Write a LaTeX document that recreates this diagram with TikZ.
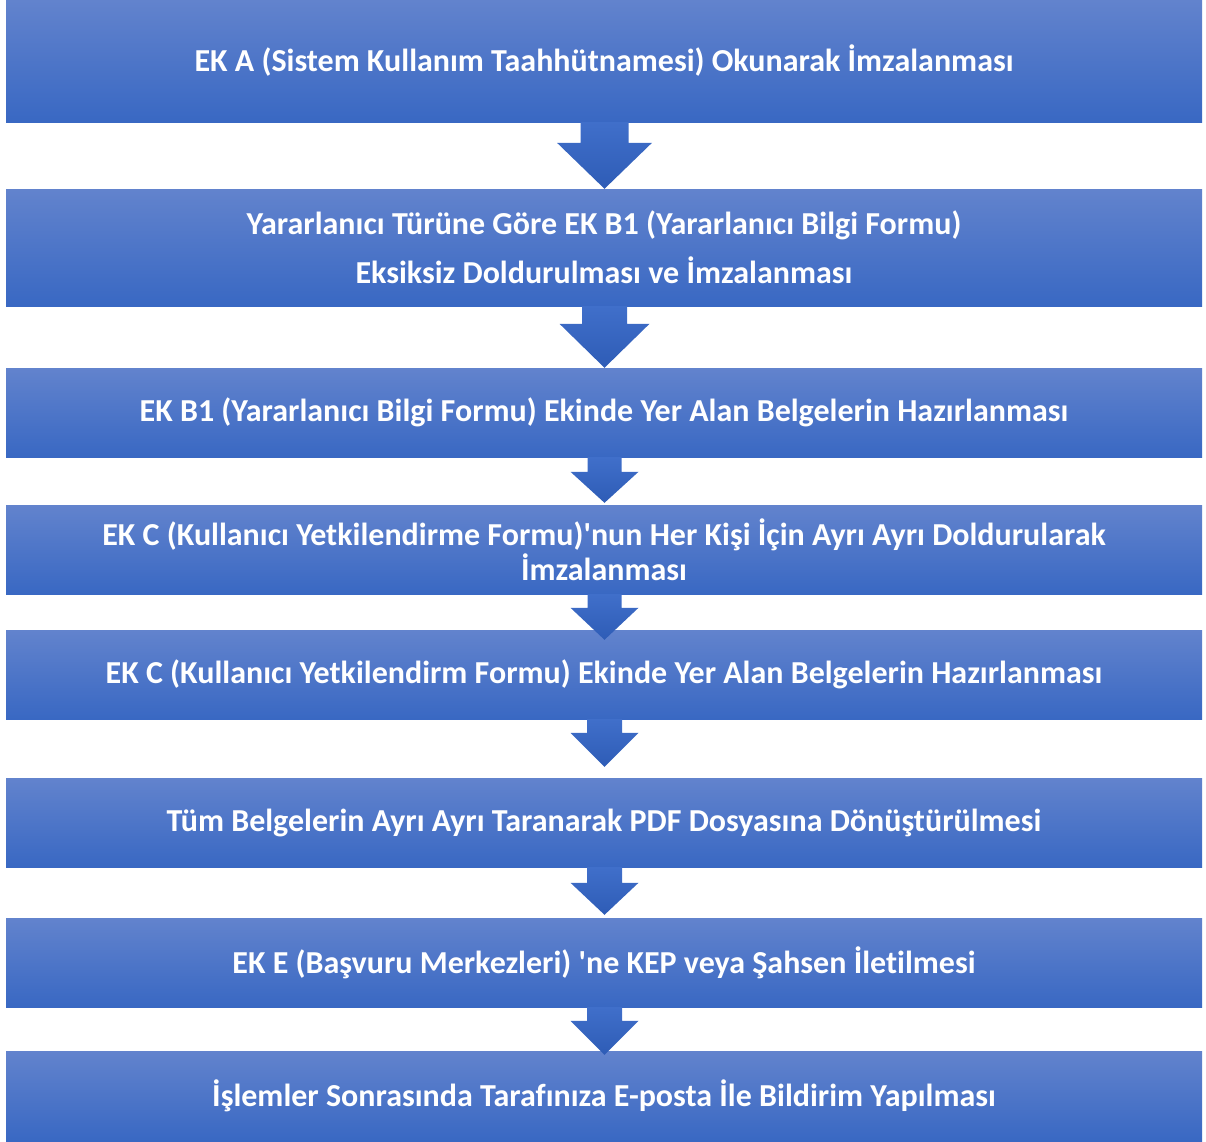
\documentclass[tikz,border=0pt]{standalone}
\usepackage{fontspec}
\setmainfont{Carlito}[Ligatures=NoCommon]
\usepackage{tikz}
\usetikzlibrary{calc}
\definecolor{boxTop}{RGB}{98,131,205}
\definecolor{boxBot}{RGB}{57,104,195}
\definecolor{arrTop}{RGB}{64,111,202}
\definecolor{arrBot}{RGB}{46,92,182}
\tikzset{
  stepbox/.style={rectangle, minimum width=1196pt, inner sep=0pt, align=center,
    top color=boxTop, bottom color=boxBot, text=white,
    font=\fontsize{32}{35}\selectfont\bfseries},
  blockarr/.style={top color=arrTop, bottom color=arrBot, draw=none},
}
% #1 from, #2 to, #3 stem half, #4 head half, #5 head length, #6 overshoot
\newcommand{\flowarrow}[6]{%
  \coordinate (tip) at ($(#2.north)+(0.5,#6)$);
  \coordinate (top) at ($(#1.south)+(0.5,0)$);
  \shade[blockarr]
    ($(top)+(-#3,0)$) -- ($(top)+(#3,0)$) -- ($(tip)+(#3,-#5)$) --
    ($(tip)+(#4,-#5)$) -- (tip) -- ($(tip)+(-#4,-#5)$) -- ($(tip)+(-#3,-#5)$) -- cycle;
}

\begin{document}
\begin{tikzpicture}[x=1pt,y=-1pt]
  \useasboundingbox (0,0) rectangle (1206,1141);
  \node[stepbox, minimum height=122pt] (ekA) at (604,61)
    {EK A (Sistem Kullanım Taahhütnamesi) Okunarak İmzalanması};
  \node[stepbox, minimum height=117pt] (ekB) at (604,247.5)
    {Yararlanıcı Türüne Göre EK B1 (Yararlanıcı Bilgi Formu)\\[14pt]
     Eksiksiz Doldurulması ve İmzalanması};
  \node[stepbox, minimum height=89pt] (belgeB) at (604,412.5)
    {EK B1 (Yararlanıcı Bilgi Formu) Ekinde Yer Alan Belgelerin Hazırlanması};
  \node[stepbox, minimum height=89pt] (ekC) at (604,549.5)
    {EK C (Kullanıcı Yetkilendirme Formu)\textquotesingle nun Her Kişi İçin Ayrı Ayrı Doldurularak\\
     İmzalanması};
  \node[stepbox, minimum height=89pt] (belgeC) at (604,674.5)
    {EK C (Kullanıcı Yetkilendirm Formu) Ekinde Yer Alan Belgelerin Hazırlanması};
  \node[stepbox, minimum height=89pt] (pdf) at (604,822.5)
    {Tüm Belgelerin Ayrı Ayrı Taranarak PDF Dosyasına Dönüştürülmesi};
  \node[stepbox, minimum height=89pt] (ekE) at (604,962.5)
    {EK E (Başvuru Merkezleri) \textquotesingle ne KEP veya Şahsen İletilmesi};
  \node[stepbox, minimum height=90pt] (bildirim) at (604,1096)
    {İşlemler Sonrasında Tarafınıza E-posta İle Bildirim Yapılması};
  % arrows between steps
  \flowarrow{ekA}{ekB}{24}{47.5}{46}{0}
  \flowarrow{ekB}{belgeB}{22.5}{45}{44}{0}
  \flowarrow{belgeB}{ekC}{17}{34}{31}{-2}
  \flowarrow{ekC}{belgeC}{17}{34}{32}{10}
  \flowarrow{belgeC}{pdf}{17.5}{34}{34}{-11}
  \flowarrow{pdf}{ekE}{17.5}{34}{32}{-3}
  \flowarrow{ekE}{bildirim}{17.5}{34}{34}{4}
\end{tikzpicture}
\end{document}
